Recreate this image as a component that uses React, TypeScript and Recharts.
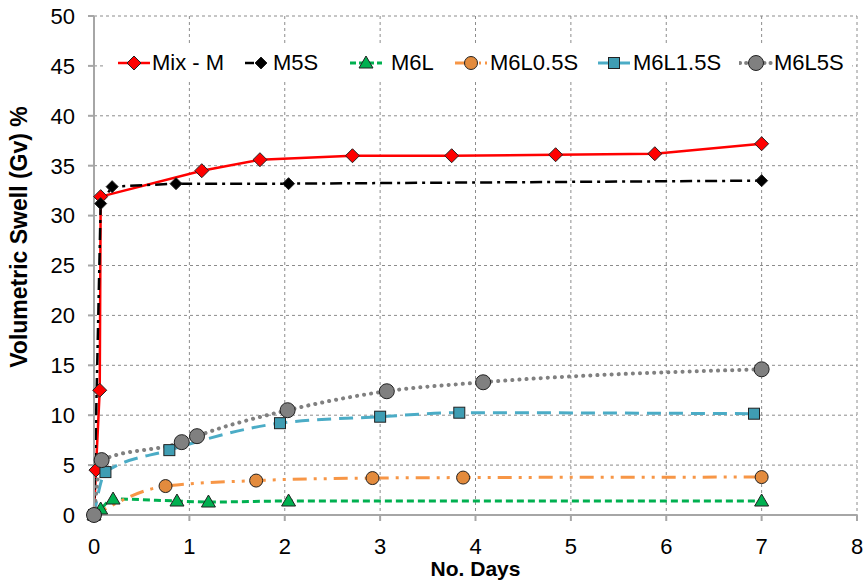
import React from "react";
import { LineChart, Line, XAxis, YAxis, CartesianGrid, Label } from "recharts";

// axis ticks
const dayTicks = [0, 1, 2, 3, 4, 5, 6, 7, 8];
const swellTicks = [0, 5, 10, 15, 20, 25, 30, 35, 40, 45, 50];

// Mix - M
const mixDays = [0, 0.02, 0.06, 0.07, 1.13, 1.74, 2.71, 3.75, 4.84, 5.88, 7];
const mixSwell = [0, 4.5, 12.5, 31.9, 34.5, 35.6, 36.0, 36.0, 36.1, 36.2, 37.2];

// M5S
const m5sDays = [0, 0.07, 0.19, 0.86, 2.04, 7];
const m5sSwell = [0, 31.2, 32.9, 33.2, 33.2, 33.5];

// M6L
const m6lDays = [0, 0.07, 0.2, 0.87, 1.2, 2.04, 7];
const m6lSwell = [0, 0.6, 1.6, 1.4, 1.3, 1.4, 1.4];

// M6L0.5S
const m6l05Days = [0, 0.75, 1.7, 2.92, 3.87, 7];
const m6l05Swell = [0, 2.9, 3.45, 3.7, 3.75, 3.8];

// M6L1.5S
const m6l15Days = [0, 0.12, 0.79, 1.95, 3.0, 3.83, 6.92];
const m6l15Swell = [0, 4.3, 6.5, 9.2, 9.85, 10.25, 10.15];

// M6L5S
const m6l5Days = [0, 0.08, 0.92, 1.08, 2.03, 3.07, 4.08, 7];
const m6l5Swell = [0, 5.5, 7.3, 7.9, 10.5, 12.4, 13.3, 14.6];

const toPoints = (days: number[], swell: number[]) =>
  days.map((d, i) => ({ x: d, y: swell[i] }));

type MarkerKind = "diamond" | "smallDiamond" | "triangle" | "circle" | "square" | "bigCircle";

function Marker({ kind, cx, cy, fill, stroke }: { kind: MarkerKind; cx: number; cy: number; fill: string; stroke: string }) {
  if (kind === "diamond" || kind === "smallDiamond") {
    const r = kind === "diamond" ? 7 : 6;
    return (
      <polygon
        points={`${cx},${cy - r} ${cx + r},${cy} ${cx},${cy + r} ${cx - r},${cy}`}
        fill={fill}
        stroke={stroke}
        strokeWidth={1}
      />
    );
  }
  if (kind === "triangle") {
    return (
      <polygon
        points={`${cx},${cy - 7} ${cx + 7},${cy + 5} ${cx - 7},${cy + 5}`}
        fill={fill}
        stroke={stroke}
        strokeWidth={1}
      />
    );
  }
  if (kind === "square") {
    return <rect x={cx - 5.5} y={cy - 5.5} width={11} height={11} fill={fill} stroke={stroke} strokeWidth={1} />;
  }
  const r = kind === "bigCircle" ? 7.5 : 6.5;
  return <circle cx={cx} cy={cy} r={r} fill={fill} stroke={stroke} strokeWidth={1} />;
}

const series = [
  { name: "Mix - M", data: toPoints(mixDays, mixSwell), color: "#ff0000", dash: undefined, width: 2.5, marker: "diamond" as MarkerKind, fill: "#ff0000", cap: "butt", curve: "linear", iconDash: undefined, iconLeft: 117, textLeft: 152 },
  { name: "M5S", data: toPoints(m5sDays, m5sSwell), color: "#000000", dash: "12 5 3 5", width: 2.5, marker: "smallDiamond" as MarkerKind, fill: "#000000", cap: "butt", curve: "linear", iconDash: "9 6 2 20", iconLeft: 244, textLeft: 273 },
  { name: "M6L", data: toPoints(m6lDays, m6lSwell), color: "#00b050", dash: "7 4", width: 3, marker: "triangle" as MarkerKind, fill: "#00b050", cap: "butt", curve: "monotone", iconDash: "6 3", iconLeft: 349, textLeft: 391 },
  { name: "M6L0.5S", data: toPoints(m6l05Days, m6l05Swell), color: "#f79646", dash: "14 7 3 7 3 7", width: 3, marker: "circle" as MarkerKind, fill: "#e38b3d", cap: "butt", curve: "monotone", iconDash: "12 12 2 4", iconLeft: 454, textLeft: 490 },
  { name: "M6L1.5S", data: toPoints(m6l15Days, m6l15Swell), color: "#4bacc6", dash: "14 8", width: 3, marker: "square" as MarkerKind, fill: "#3f9db3", cap: "butt", curve: "monotone", iconDash: undefined, iconLeft: 597, textLeft: 633 },
  { name: "M6L5S", data: toPoints(m6l5Days, m6l5Swell), color: "#808080", dash: "0.1 7", width: 4, marker: "bigCircle" as MarkerKind, fill: "#808080", cap: "round", curve: "monotone", iconDash: "0.1 6", iconLeft: 739, textLeft: 774 },
];

const font = "'Liberation Sans', Arial, sans-serif";

function LegendBox() {
  return (
    <div
      style={{
        position: "absolute",
        left: 104,
        top: 44,
        width: 748,
        height: 38,
        background: "#fff",
        fontFamily: font,
        fontSize: 22,
        color: "#000",
      }}
    >
      {series.map((s) => (
        <React.Fragment key={s.name}>
          <svg width={34} height={20} style={{ position: "absolute", left: s.iconLeft - 104, top: 9 }}>
            <line
              x1={1}
              y1={10}
              x2={33}
              y2={10}
              stroke={s.color}
              strokeWidth={s.width}
              strokeDasharray={s.iconDash}
              strokeLinecap={s.cap as "butt" | "round"}
            />
            <Marker kind={s.marker} cx={17} cy={10} fill={s.fill} stroke="#222" />
          </svg>
          <span style={{ position: "absolute", left: s.textLeft - 104, top: 6, lineHeight: "26px", whiteSpace: "nowrap" }}>
            {s.name}
          </span>
        </React.Fragment>
      ))}
    </div>
  );
}

export default function App() {
  return (
    <div style={{ position: "absolute", left: 0, top: 0, width: 864, height: 584, background: "#fff" }}>
      <LineChart width={864} height={584} margin={{ top: 16, right: 7, bottom: 0, left: 0 }}>
        <CartesianGrid stroke="#8c8c8c" strokeDasharray="3 3" strokeWidth={1} />
        <XAxis
          type="number"
          dataKey="x"
          domain={[0, 8]}
          ticks={dayTicks}
          height={69}
          stroke="#a6a6a6"
          strokeWidth={2}
          tickSize={6}
          tickMargin={17}
          tick={{ fill: "#000", fontSize: 22, fontFamily: font }}
        >
          <Label
            value="No. Days"
            position="insideBottom"
            offset={8}
            style={{ fill: "#000", fontSize: 21, fontWeight: "bold", fontFamily: font }}
          />
        </XAxis>
        <YAxis
          type="number"
          dataKey="y"
          domain={[0, 50]}
          ticks={swellTicks}
          width={94}
          stroke="#a6a6a6"
          strokeWidth={2}
          tickSize={6}
          tickMargin={13}
          tick={{ fill: "#000", fontSize: 22, fontFamily: font }}
        >
          <Label
            content={() => (
              <text
                x={27}
                y={237}
                transform="rotate(-90 27 237)"
                textAnchor="middle"
                style={{ fill: "#000", fontSize: 23, fontWeight: "bold", fontFamily: font }}
              >
                Volumetric Swell (Gv) %
              </text>
            )}
          />
        </YAxis>
        {series.map((s) => (
          <Line
            key={s.name}
            name={s.name}
            data={s.data}
            dataKey="y"
            type={s.curve as "linear" | "monotone"}
            stroke={s.color}
            strokeWidth={s.width}
            strokeDasharray={s.dash}
            strokeLinecap={s.cap as "butt" | "round"}
            isAnimationActive={false}
            activeDot={false}
            dot={(p: any) => (
              <Marker key={`${s.name}-${p.index}`} kind={s.marker} cx={p.cx} cy={p.cy} fill={s.fill} stroke="#222" />
            )}
          />
        ))}
      </LineChart>
      <LegendBox />
    </div>
  );
}
